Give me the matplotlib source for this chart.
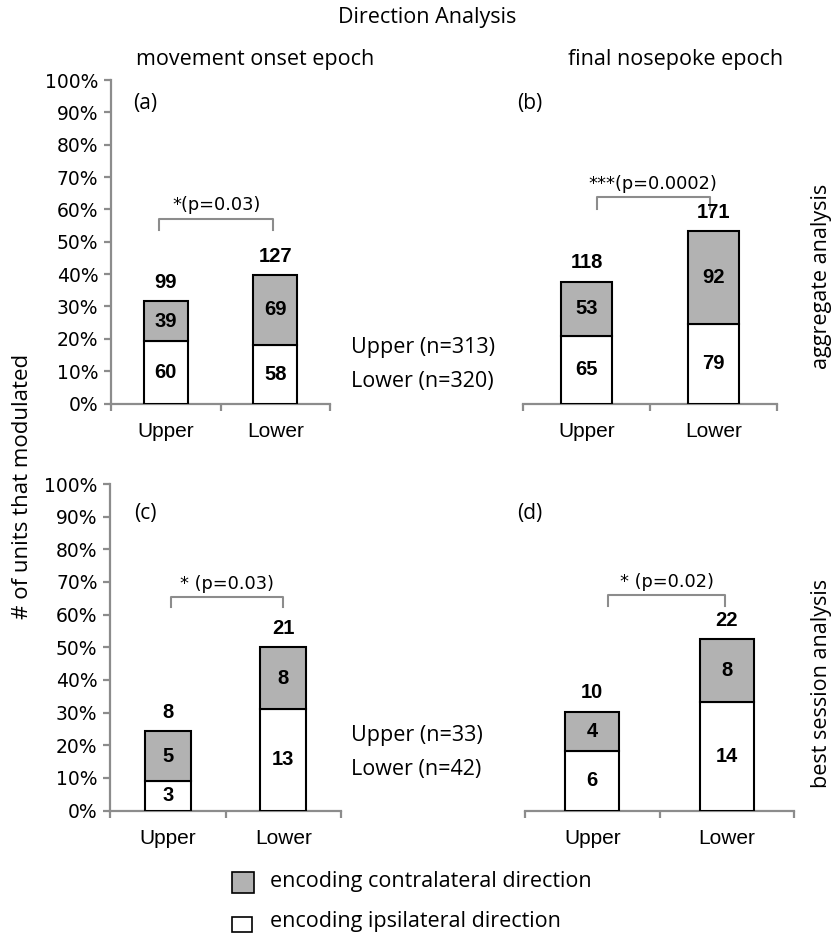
import matplotlib
matplotlib.use("Agg")
import matplotlib.pyplot as plt
from matplotlib.patches import Rectangle

# counts of modulated units per group
categories = ['Upper', 'Lower']
n_aggregate = [313, 320]
n_best = [33, 42]

ipsi = {
    'a': [60, 58],
    'b': [65, 79],
    'c': [3, 13],
    'd': [6, 14],
}
contra = {
    'a': [39, 69],
    'b': [53, 92],
    'c': [5, 8],
    'd': [4, 8],
}
p_labels = {
    'a': '*(p=0.03)',
    'b': '***(p=0.0002)',
    'c': '* (p=0.03)',
    'd': '* (p=0.02)',
}
panel_n = {'a': n_aggregate, 'b': n_aggregate, 'c': n_best, 'd': n_best}

W, H = 836, 936
GRAY = '#b2b2b2'
AXGRAY = '#8c8c8c'
NUMFONT = 'Liberation Sans'
TXTFONT = 'Open Sans'
TXTSIZE = 15.5


def fx(x):
    return x / W


def fy(y):
    return 1 - y / H


def axes_at(fig, x0, x1, y100, y0):
    return fig.add_axes([fx(x0), fy(y0), fx(x1) - fx(x0), fy(y100) - fy(y0)])


fig = plt.figure(figsize=(W / 100, H / 100), dpi=100)

# panel geometry: left/right of x axis, pixel rows of 100% and 0%
layout = {
    'a': (111, 330, 80, 403.5, True),
    'b': (523, 777, 80, 403.5, False),
    'c': (110, 341, 484, 810.5, True),
    'd': (525, 794, 484, 810.5, False),
}
# bracket: x start, x end, top y (%), end y (%), label y (%)
brackets = {
    'a': (-0.06, 0.98, 57, 53.5, 61.5),
    'b': (0.08, 0.97, 63.7, 60, 68),
    'c': (0.03, 1.0, 65.4, 62.4, 69.5),
    'd': (0.12, 0.99, 66, 62.7, 70),
}

for key, (x0, x1, y100, y0, show_y) in layout.items():
    ax = axes_at(fig, x0, x1, y100, y0)
    n = panel_n[key]
    pos = list(range(len(categories)))
    low = [100 * c / t for c, t in zip(ipsi[key], n)]
    high = [100 * c / t for c, t in zip(contra[key], n)]
    ax.bar(pos, low, width=0.4, color='white', edgecolor='black', linewidth=1.5, zorder=3)
    ax.bar(pos, high, width=0.4, bottom=low, color=GRAY, edgecolor='black', linewidth=1.5, zorder=3)

    for i in pos:
        ax.text(i, low[i] / 2, str(ipsi[key][i]), ha='center', va='center',
                fontsize=14.5, fontweight='bold', family=NUMFONT, zorder=4)
        ax.text(i, low[i] + high[i] / 2, str(contra[key][i]), ha='center', va='center',
                fontsize=14.5, fontweight='bold', family=NUMFONT, zorder=4)
        total = ipsi[key][i] + contra[key][i]
        ax.text(i, low[i] + high[i] + 2.8, str(total), ha='center', va='bottom',
                fontsize=14.5, fontweight='bold', family=NUMFONT)

    bx0, bx1, btop, bend, ty = brackets[key]
    ax.plot([bx0, bx0, bx1, bx1], [bend, btop, btop, bend], color=AXGRAY, lw=1.5,
            clip_on=False)
    ax.text((bx0 + bx1) / 2, ty, p_labels[key], ha='center', va='center',
            fontsize=12.8, family='DejaVu Sans')

    ax.set_xlim(-0.5, 1.5)
    ax.set_ylim(0, 100)
    for s in ['top', 'right']:
        ax.spines[s].set_visible(False)
    ax.spines['bottom'].set_color(AXGRAY)
    ax.spines['bottom'].set_linewidth(1.6)
    ax.set_xticks([-0.5, 0.5, 1.5])
    ax.set_xticklabels([])
    ax.set_xticks(pos, minor=True)
    ax.set_xticklabels(categories, minor=True, fontsize=15, family=NUMFONT)
    ax.tick_params(axis='x', which='major', direction='out', length=5, width=1.6,
                   color=AXGRAY)
    ax.tick_params(axis='x', which='minor', length=0, pad=13)
    if show_y:
        ax.spines['left'].set_color(AXGRAY)
        ax.spines['left'].set_linewidth(1.6)
        ax.set_yticks(range(0, 101, 10))
        ax.set_yticklabels([f'{v}%' for v in range(0, 101, 10)], fontsize=13.5,
                           family='DejaVu Sans')
        ax.tick_params(axis='y', direction='out', length=5, width=1.6, color=AXGRAY,
                       pad=4)
    else:
        ax.spines['left'].set_visible(False)
        ax.set_yticks([])
    ax.patch.set_visible(False)

# titles and side labels
fig.text(fx(427), fy(18), 'Direction Analysis', ha='center', va='center',
         fontsize=TXTSIZE, family=TXTFONT)
fig.text(fx(255), fy(60), 'movement onset epoch', ha='center', va='center',
         fontsize=TXTSIZE, family=TXTFONT)
fig.text(fx(676), fy(60), 'final nosepoke epoch', ha='center', va='center',
         fontsize=TXTSIZE, family=TXTFONT)
for lab, (x, y) in {'(a)': (145, 103), '(b)': (530, 103),
                    '(c)': (145, 513), '(d)': (530, 513)}.items():
    fig.text(fx(x), fy(y), lab, ha='center', va='center', fontsize=15, family=TXTFONT)

fig.text(fx(23), fy(486), '# of units that modulated', rotation=90, ha='center',
         va='center', fontsize=16, family=TXTFONT)
fig.text(fx(822), fy(276), 'aggregate analysis', rotation=90, ha='center',
         va='center', fontsize=TXTSIZE, family=TXTFONT)
fig.text(fx(822), fy(683), 'best session analysis', rotation=90, ha='center',
         va='center', fontsize=TXTSIZE, family=TXTFONT)

fig.text(fx(351), fy(348), f'{categories[0]} (n={n_aggregate[0]})', va='center',
         fontsize=TXTSIZE, family=TXTFONT)
fig.text(fx(351), fy(381), f'{categories[1]} (n={n_aggregate[1]})', va='center',
         fontsize=TXTSIZE, family=TXTFONT)
fig.text(fx(351), fy(736), f'{categories[0]} (n={n_best[0]})', va='center',
         fontsize=TXTSIZE, family=TXTFONT)
fig.text(fx(351), fy(769), f'{categories[1]} (n={n_best[1]})', va='center',
         fontsize=TXTSIZE, family=TXTFONT)

# legend drawn as boxes with text
fig.patches.append(Rectangle((fx(232), fy(893)), fx(22), 21 / H, facecolor=GRAY,
                             edgecolor='black', lw=1.2, transform=fig.transFigure))
fig.patches.append(Rectangle((fx(232), fy(932)), fx(20), 15 / H, facecolor='white',
                             edgecolor='black', lw=1.2, transform=fig.transFigure))
fig.text(fx(270), fy(882), 'encoding contralateral direction', va='center',
         fontsize=TXTSIZE, family=TXTFONT)
fig.text(fx(270), fy(922), 'encoding ipsilateral direction', va='center',
         fontsize=TXTSIZE, family=TXTFONT)

fig.savefig('out.png', dpi=100)
